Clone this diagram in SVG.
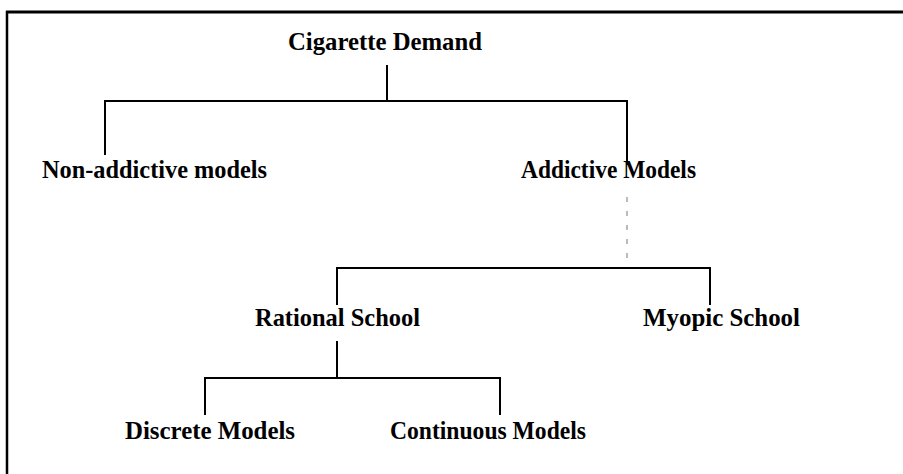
<svg xmlns="http://www.w3.org/2000/svg" width="903" height="474" viewBox="0 0 903 474">
<style>
.lbl{font-family:"Liberation Serif","Times New Roman",serif;font-weight:bold;font-size:25px;fill:#000}
.ln{stroke:#000;stroke-width:2;fill:none}
</style>
<rect width="903" height="474" fill="#fff"/>
<g id="frame">
<line x1="6" y1="12" x2="903" y2="12" stroke="#000" stroke-width="3"/>
<line x1="7" y1="11" x2="7" y2="474" stroke="#000" stroke-width="2.5"/>
</g>
<g id="connectors">
<path class="ln" d="M387 65V101M105 155V101H627V165"/>
<path d="M627 197V262" stroke="#777" stroke-width="1" stroke-dasharray="5 9" fill="none"/>
<path class="ln" d="M337 305V268H710V305"/>
<path class="ln" d="M337 341V378M205 415V378H500V415"/>
</g>
<g id="cigarette-demand"><text class="lbl" x="288" y="50" textLength="194" lengthAdjust="spacingAndGlyphs">Cigarette Demand</text></g>
<g id="non-addictive"><text class="lbl" x="42" y="178" textLength="225" lengthAdjust="spacingAndGlyphs">Non-addictive models</text></g>
<g id="addictive"><text class="lbl" x="521" y="178" textLength="175" lengthAdjust="spacingAndGlyphs">Addictive Models</text></g>
<g id="rational"><text class="lbl" x="255" y="326" textLength="165" lengthAdjust="spacingAndGlyphs">Rational School</text></g>
<g id="myopic"><text class="lbl" x="643" y="326" textLength="157" lengthAdjust="spacingAndGlyphs">Myopic School</text></g>
<g id="discrete"><text class="lbl" x="125" y="439" textLength="170" lengthAdjust="spacingAndGlyphs">Discrete Models</text></g>
<g id="continuous"><text class="lbl" x="390" y="439" textLength="196" lengthAdjust="spacingAndGlyphs">Continuous Models</text></g>
</svg>
